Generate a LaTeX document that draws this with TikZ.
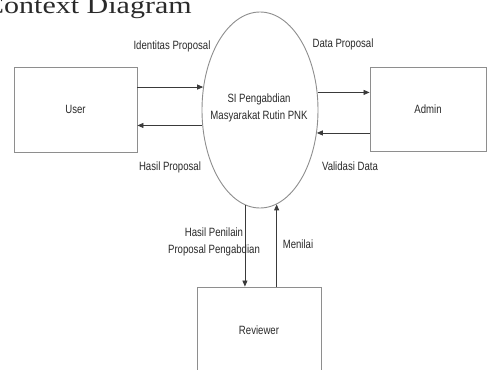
\documentclass[tikz,border=0pt]{standalone}
\usepackage{fontspec}
\setmainfont{Liberation Sans}
\newfontfamily\labfont{Liberation Sans}[FakeStretch=0.8]
\newfontfamily\titlefont{Liberation Serif}
\usetikzlibrary{shapes.geometric,arrows.meta}
\definecolor{boxgray}{HTML}{8E8E8E}
\definecolor{linegray}{HTML}{3A3A3A}
\definecolor{txt}{HTML}{2A2A2A}
\tikzset{
  lab/.style={font=\labfont\fontsize{12}{17}\selectfont, text=txt, inner sep=0pt},
  entity/.style={draw=boxgray, line width=0.9pt, rectangle, inner sep=0pt, lab},
  proc/.style={draw=boxgray, line width=0.9pt, ellipse, inner sep=0pt,
    minimum width=116pt, minimum height=196pt},
  flow/.style={draw=linegray, line width=0.8pt, -{Triangle[length=6pt,width=5pt]}},
}
\begin{document}
\begin{tikzpicture}[x=1pt,y=-1pt]
\useasboundingbox (0,0) rectangle (488,370);
\clip (0,0) rectangle (488,370);
\fill[white] (0,0) rectangle (488,370);
% title
\node[anchor=base west, inner sep=0pt, text=txt, font=\titlefont\fontsize{24}{24}\selectfont] (title) at (-16,13) {\scalebox{1.25}[1]{Context Diagram}};
% process
\node[proc] (p) at (260,110) {};
\node[lab, align=center] (ptext) at (259,108) {SI Pengabdian\\Masyarakat Rutin PNK};
% entities
\node[entity, minimum width=123pt, minimum height=85pt] (user) at (75.5,109.5) {User};
\node[entity, minimum width=116pt, minimum height=84pt] (admin) at (428,109) {Admin};
\node[entity, minimum width=124pt, minimum height=87pt] (rev) at (259,330.5) {Reviewer};
% flows
\draw[flow] (user.east |- p.158.7) -- (p.158.7);
\draw[flow] (p.195.6) -- (user.east |- p.195.6);
\draw[flow] (p.17.5) -- (admin.west |- p.17.5);
\draw[flow] (admin.west |- p.338.7) -- (p.338.7);
\draw[flow] (p.261) -- (rev.north -| p.261);
\draw[flow] (rev.north -| p.280.3) -- (p.280.3);
% labels
\node[lab, anchor=base] (l1) at (172,49) {Identitas Proposal};
\node[lab, anchor=base] (l2) at (170,170) {Hasil Proposal};
\node[lab, anchor=base] (l3) at (343,47) {Data Proposal};
\node[lab, anchor=base] (l4) at (350,170) {Validasi Data};
\node[lab, anchor=base, align=center] (l5) at (214,253) {Hasil Penilain\\Proposal Pengabdian};
\node[lab, anchor=base] (l6) at (298,248) {Menilai};
\end{tikzpicture}
\end{document}
